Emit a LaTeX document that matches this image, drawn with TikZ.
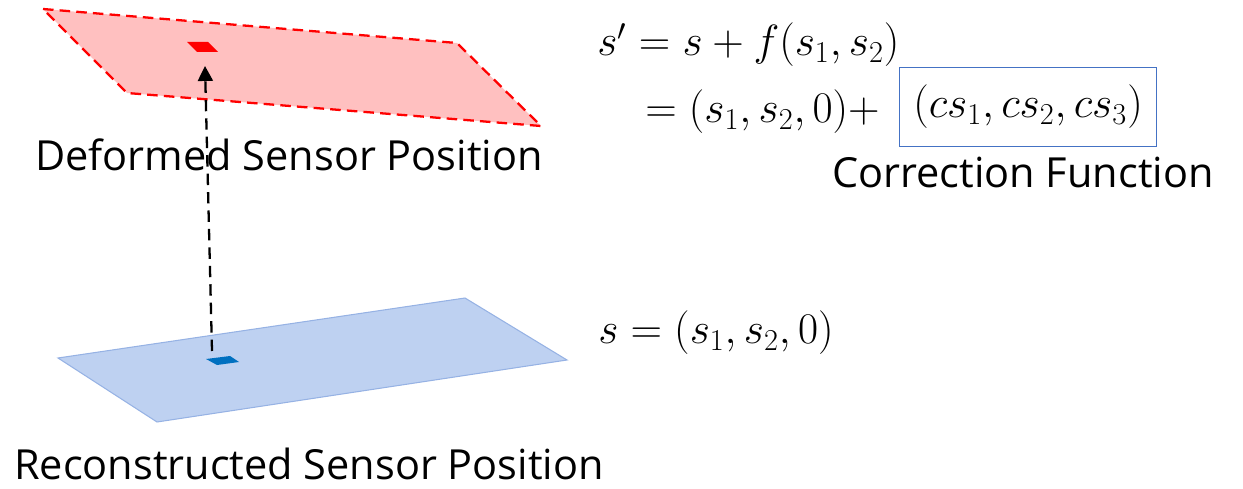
\documentclass[tikz,border=0pt]{standalone}
\usepackage{amsmath}
\usepackage{fontspec}
\setmainfont{Open Sans}
\usetikzlibrary{arrows.meta}
\usetikzlibrary{positioning}

\definecolor{defFill}{RGB}{255,192,192}
\definecolor{defEdge}{RGB}{255,0,0}
\definecolor{recFill}{RGB}{190,209,241}
\definecolor{recEdge}{RGB}{150,178,228}
\definecolor{recPatch}{RGB}{0,112,192}
\definecolor{boxEdge}{RGB}{68,114,196}

\begin{document}
\begin{tikzpicture}[x=0.02cm, y=-0.02cm,
    every node/.style={inner sep=0pt, font=\fontsize{23.6}{28}\selectfont},
    eqn/.style={font=\fontsize{27}{32}\selectfont}]

        \useasboundingbox (0,0) rectangle (1243,489);

        % Deformed sensor plane
        \coordinate (d1) at (43,9);
        \coordinate (d2) at (457,43);
        \coordinate (d3) at (541,126);
        \coordinate (d4) at (127,93);
        \filldraw[fill=defFill, draw=defEdge, line width=1.3pt, dash pattern=on 6pt off 3.5pt]
          (d1) -- (d2) -- (d3) -- (d4) -- cycle;

        % Deformed sensor patch
        \fill[defEdge] (187,42) -- (208,42) -- (218,52) -- (197,52) -- cycle;
        \coordinate (dtip) at (205,66);

        % Reconstructed sensor plane
        \coordinate (r1) at (58,358);
        \coordinate (r2) at (465,298);
        \coordinate (r3) at (567,360);
        \coordinate (r4) at (157,422);
        \filldraw[fill=recFill, draw=recEdge, line width=0.6pt]
          (r1) -- (r2) -- (r3) -- (r4) -- cycle;

        % Reconstructed sensor patch
        \fill[recPatch] (206,359) -- (230,356) -- (239,362) -- (217,365) -- cycle;
        \coordinate (rtip) at (212,351);

        % Mapping from reconstructed to deformed position
        \draw[line width=1.3pt, dash pattern=on 6.5pt off 4pt, -{Triangle[length=8.5pt, width=8.5pt]}]
          (rtip) -- (dtip);

        % Labels
        \node (deflabel) at (289,155) {Deformed Sensor Position};
        \node (reclabel) at (309,464) {Reconstructed Sensor Position};

        % Equations
        \node[eqn, anchor=west] (eqone) at (597,45) {$s' = s + f(s_1,s_2)$};
        \node[eqn, anchor=west] (eqtwo) at (645,112) {$= (s_1,s_2,0) +$};
        \node[eqn, draw=boxEdge, line width=0.8pt, minimum width=5.14cm, minimum height=1.58cm]
          (corr) at (1028,107) {$(cs_1,cs_2,cs_3)$};
        \node (corrlabel) at (1023,172) {Correction Function};
        \node[eqn, anchor=west] (eqrec) at (598,333) {$s = (s_1,s_2,0)$};

      \end{tikzpicture}
\end{document}
